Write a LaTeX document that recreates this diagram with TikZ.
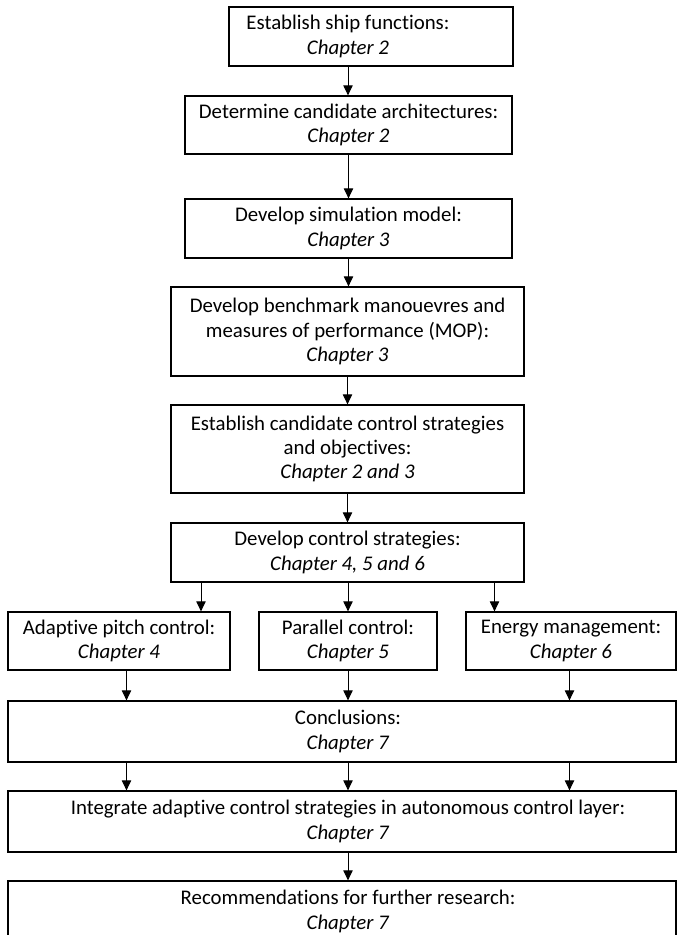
\documentclass[tikz,border=0pt]{standalone}
\usepackage{fontspec}
\setmainfont{Carlito}[Ligatures=NoCommon]
\usetikzlibrary{arrows.meta}
\begin{document}
\begin{tikzpicture}[x=0.6pt,y=-0.6pt,
  stage/.style={draw=black, line width=0.75pt, rectangle, inner sep=0pt,
    align=center, font=\fontsize{12.5}{14.5}\selectfont},
  sz/.style 2 args={minimum width={#1*0.6pt}, minimum height={#2*0.6pt}},
  txt/.style={inner sep=0pt, align=center, font=\fontsize{12.5}{14.5}\selectfont},
  flow/.style={draw=black, line width=0.6pt, -{Triangle[length=6pt,width=5.6pt]}}]
\useasboundingbox (0,0) rectangle (677,935);
\clip (0,0) rectangle (677,935);

% main column
\node[stage, sz={284}{59}] (b1) at (371,36.5) {};
\node[txt] (t1) at (348,36.5) {Establish ship functions:\\\textit{Chapter 2}};
\node[stage, sz={327}{58}] (b2) at (348.5,125) {Determine candidate architectures:\\\textit{Chapter 2}};
\node[stage, sz={327}{59}] (b3) at (348.5,228.5) {Develop simulation model:\\\textit{Chapter 3}};
\node[stage, sz={353}{89}] (b4) at (347.5,331.5) {Develop benchmark manouevres and\\measures of performance (MOP):\\\textit{Chapter 3}};
\node[stage, sz={353}{88}] (b5) at (347.5,449) {Establish candidate control strategies\\and objectives:\\\textit{Chapter 2 and 3}};
\node[stage, sz={353}{59}] (b6) at (347.5,552.5) {Develop control strategies:\\\textit{Chapter 4, 5 and 6}};

% three strategies
\node[stage, sz={222}{58}] (b7) at (119,641) {Adaptive pitch control:\\\textit{Chapter 4}};
\node[stage, sz={178}{58}] (b8) at (348,641) {Parallel control:\\\textit{Chapter 5}};
\node[stage, sz={210}{58}] (b9) at (571,641) {Energy management:\\\textit{Chapter 6}};

% wide boxes at the bottom
\node[stage, sz={668}{61}] (b10) at (342,731.5) {};
\node[txt] (t10) at (348,731.5) {Conclusions:\\\textit{Chapter 7}};
\node[stage, sz={668}{61}] (b11) at (342,821.5) {};
\node[txt] (t11) at (348,821.5) {Integrate adaptive control strategies in autonomous control layer:\\\textit{Chapter 7}};
\node[stage, sz={668}{61}] (b12) at (342,911.5) {};
\node[txt] (t12) at (348,911.5) {Recommendations for further research:\\\textit{Chapter 7}};

% columns of the branching arrows
\coordinate (cl) at (201,0);
\coordinate (cr) at (494.5,0);
\coordinate (ol) at (126.5,0);
\coordinate (or) at (569.5,0);

\draw[flow] (t1 |- b1.south) -- (t1 |- b2.north);
\draw[flow] (b2.south) -- (b3.north);
\draw[flow] (b3.south) -- (b3.south |- b4.north);
\draw[flow] (b4.south) -- (b5.north);
\draw[flow] (b5.south) -- (b6.north);

\draw[flow] (cl |- b6.south) -- (cl |- b7.north);
\draw[flow] (b8.north |- b6.south) -- (b8.north);
\draw[flow] (cr |- b6.south) -- (cr |- b9.north);

\draw[flow] (ol |- b7.south) -- (ol |- b10.north);
\draw[flow] (b8.south) -- (b8.south |- b10.north);
\draw[flow] (or |- b9.south) -- (or |- b10.north);

\draw[flow] (ol |- b10.south) -- (ol |- b11.north);
\draw[flow] (t10 |- b10.south) -- (t10 |- b11.north);
\draw[flow] (or |- b10.south) -- (or |- b11.north);

\draw[flow] (t11 |- b11.south) -- (t11 |- b12.north);
\end{tikzpicture}
\end{document}
